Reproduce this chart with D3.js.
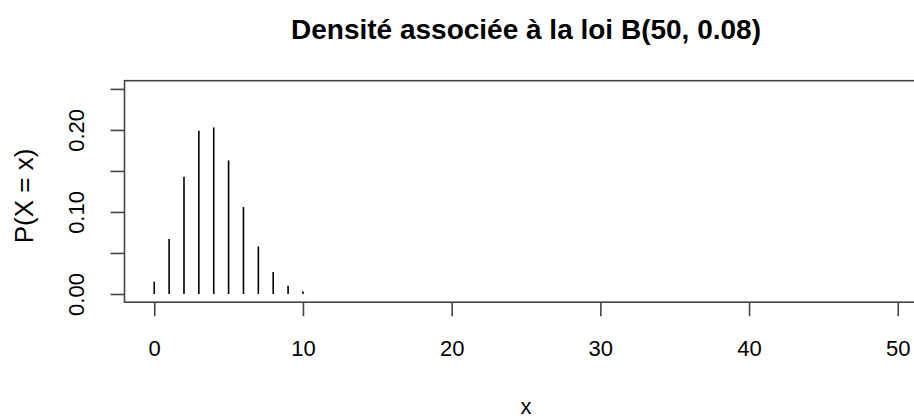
<!DOCTYPE html>
<html>
<head>
<meta charset="utf-8">
<script src="https://cdn.jsdelivr.net/npm/d3@7"></script>
<style>
  html, body { margin: 0; padding: 0; background: #fff; }
  svg { display: block; }
  text { font-family: "Liberation Sans", Arial, sans-serif; fill: #000; }
</style>
</head>
<body>
<svg id="chart" width="914" height="420"></svg>
<script>
// Data
const categories = [0, 1, 2, 3, 4, 5, 6, 7, 8, 9, 10];
const probabilities = [0.0150, 0.0670, 0.1430, 0.1990, 0.2030, 0.1628, 0.1060, 0.0580, 0.0268, 0.0100, 0.0031];
const xTicks = [0, 10, 20, 30, 40, 50];
const yTicks = [0.00, 0.05, 0.10, 0.15, 0.20, 0.25];
const yTickLabels = ["0.00", "", "0.10", "", "0.20", ""];
const titleText = "Densité associée à la loi B(50, 0.08)";
const xLabel = "x";
const yLabel = "P(X = x)";

const svg = d3.select("#chart");
const plotLeft = 124.5, plotRight = 927.5, plotTop = 80.7, plotBottom = 302.2;

const x = d3.scaleLinear().domain([-2, 52]).range([plotLeft, plotRight]);
const y = d3.scaleLinear().domain([-0.01, 0.26]).range([plotBottom, plotTop]);

// box
svg.append("rect")
  .attr("x", plotLeft).attr("y", plotTop)
  .attr("width", plotRight - plotLeft).attr("height", plotBottom - plotTop)
  .attr("fill", "none").attr("stroke", "#444").attr("stroke-width", 1.6);

// x axis
const xAxis = d3.axisBottom(x).tickValues(xTicks).tickSize(14).tickPadding(6)
  .tickFormat(d3.format("d"));
const gx = svg.append("g").attr("transform", `translate(0,${plotBottom})`).call(xAxis);
gx.select(".domain").remove();
gx.selectAll(".tick line").attr("stroke", "#444").attr("stroke-width", 1.6);
gx.selectAll(".tick text").attr("font-size", 22).attr("font-family", "Liberation Sans, Arial, sans-serif")
  .attr("fill", "#000").attr("y", 54).attr("dy", 0);

// y axis
const yAxis = d3.axisLeft(y).tickValues(yTicks).tickSize(14)
  .tickFormat((d, i) => yTickLabels[i]);
const gy = svg.append("g").attr("transform", `translate(${plotLeft},0)`).call(yAxis);
gy.select(".domain").remove();
gy.selectAll(".tick line").attr("stroke", "#444").attr("stroke-width", 1.6);
gy.selectAll(".tick text")
  .attr("font-size", 22).attr("font-family", "Liberation Sans, Arial, sans-serif").attr("fill", "#000")
  .attr("x", 0).attr("dy", 0)
  .attr("text-anchor", "middle")
  .attr("transform", "translate(-40.5,0) rotate(-90)");

// spikes (type = "h")
svg.append("g").selectAll("line")
  .data(categories)
  .join("line")
  .attr("x1", d => x(d)).attr("x2", d => x(d))
  .attr("y1", y(0)).attr("y2", (d, i) => y(probabilities[i]))
  .attr("stroke", "#000").attr("stroke-width", 1.6);

// title
svg.append("text")
  .attr("x", (plotLeft + plotRight) / 2).attr("y", 39)
  .attr("text-anchor", "middle")
  .attr("font-size", 28).attr("font-weight", "bold")
  .text(titleText);

// x label
svg.append("text")
  .attr("x", (plotLeft + plotRight) / 2).attr("y", 414)
  .attr("text-anchor", "middle").attr("font-size", 22)
  .text(xLabel);

// y label
svg.append("text")
  .attr("transform", `translate(32.5,196) rotate(-90)`)
  .attr("text-anchor", "middle").attr("font-size", 26)
  .text(yLabel);
</script>
</body>
</html>
